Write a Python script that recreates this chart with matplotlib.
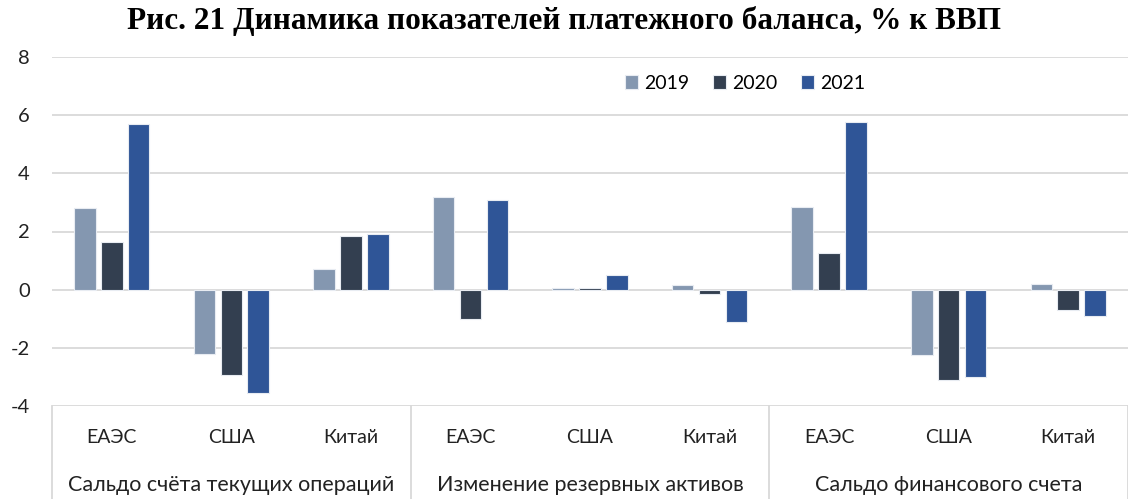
import numpy as np
import matplotlib
matplotlib.use("Agg")
import matplotlib.pyplot as plt

# data
groups = ["Сальдо счёта текущих операций", "Изменение резервных активов", "Сальдо финансового счета"]
countries = ["ЕАЭС", "США", "Китай"]
years = ["2019", "2020", "2021"]

v2019 = [2.8, -2.2, 0.7, 3.2, 0.05, 0.15, 2.85, -2.25, 0.2]
v2020 = [1.65, -2.95, 1.85, -1.0, 0.05, -0.15, 1.25, -3.1, -0.7]
v2021 = [5.7, -3.55, 1.9, 3.1, 0.5, -1.1, 5.75, -3.0, -0.9]

colors = ["#8497B0", "#333F50", "#2F5597"]

plt.rcParams["font.family"] = ["Lato", "DejaVu Sans"]
plt.rcParams["axes.unicode_minus"] = False

fig = plt.figure(figsize=(11.28, 4.99), dpi=100)
ax = fig.add_axes([52 / 1128, 93 / 499, 1076 / 1128, 349 / 499])

x = np.arange(len(v2019))
w = 0.18
step = 0.225
for i, (vals, lab) in enumerate(zip([v2019, v2020, v2021], years)):
    ax.bar(x + (i - 1) * step, vals, w, color=colors[i], label=lab,
           edgecolor="#E8ECF2", linewidth=0.8, zorder=3)

ax.set_xlim(-0.5, 8.5)
ax.set_ylim(-4, 8)
ax.set_yticks(range(-4, 9, 2))
ax.tick_params(axis="y", length=0, pad=16, labelsize=14.5, labelcolor="#222222")
ax.set_xticks([])
ax.grid(axis="y", color="#D9D9D9", linewidth=1.3, zorder=0)
for s in ax.spines.values():
    s.set_visible(False)

trans = ax.get_xaxis_transform()
# category labels
for i in range(len(v2019)):
    ax.text(x[i], -0.089, countries[i % 3], transform=trans, ha="center", va="center",
            fontsize=14, color="#222222")
# group labels
for g, name in enumerate(groups):
    ax.text(g * 3 + 1, -0.225, name, transform=trans, ha="center", va="center",
            fontsize=15.5, color="#222222")
# separators
for xb in [-0.5, 2.5, 5.5, 8.5]:
    ax.plot([xb, xb], [0, -0.27], transform=trans, color="#D9D9D9", linewidth=1.3, clip_on=False)

ax.legend(loc="center", bbox_to_anchor=(0.644, 0.925), ncol=3, frameon=False,
          fontsize=14, handlelength=0.7, handleheight=0.7, handletextpad=0.3,
          columnspacing=1.2)

fig.text(0.5, 0.958, "Рис. 21 Динамика показателей платежного баланса, % к ВВП",
         ha="center", va="center", fontsize=22.5, fontweight="bold",
         family=["Liberation Serif", "DejaVu Serif"])

fig.savefig("out.png", dpi=100)
